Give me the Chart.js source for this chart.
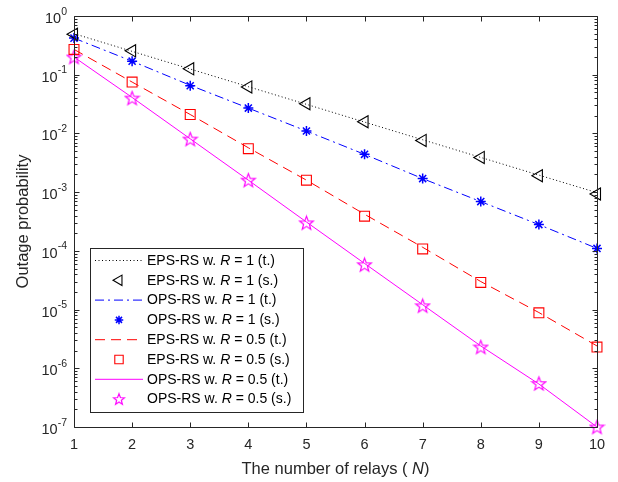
<!DOCTYPE html>
<html><head><meta charset="utf-8">
<script src="https://cdn.jsdelivr.net/npm/chart.js@4.4.1/dist/chart.umd.min.js"></script>
<style>html,body{margin:0;padding:0;background:#fff}#wrap{width:618px;height:482px}</style>
</head><body><div id="wrap"><canvas id="c" width="618" height="482"></canvas></div>
<script>
const relays = [1,2,3,4,5,6,7,8,9,10];
const xTicks = [1,2,3,4,5,6,7,8,9,10];
const yDecades = [0,-1,-2,-3,-4,-5,-6,-7];
const epsR1Theory = [0.5,0.25,0.125,0.0625,0.0313,0.0156,0.0078,0.0039,0.00195,0.00098];
const epsR1Sim    = [0.49,0.255,0.126,0.062,0.032,0.0158,0.0076,0.0039,0.0019,0.00093];
const opsR1Theory = [0.42,0.17,0.066,0.027,0.011,0.0044,0.0017,0.00069,0.00028,0.00011];
const opsR1Sim    = [0.42,0.17,0.065,0.027,0.011,0.0044,0.0017,0.00069,0.00028,0.00011];
const epsR05Theory = [0.27,0.075,0.021,0.0057,0.0016,0.00042,0.000115,0.00003,0.0000089,0.0000024];
const epsR05Sim    = [0.27,0.075,0.021,0.0055,0.0016,0.00039,0.000108,0.000029,0.0000088,0.0000023];
const opsR05Theory = [0.2,0.041,0.0081,0.0016,0.00031,0.000061,0.0000121,0.0000024,0.00000054,0.0000001];
const opsR05Sim    = [0.2,0.04,0.008,0.0016,0.0003,0.000058,0.0000116,0.0000023,0.00000055,0.0000001];
const legendNames = [
 ['EPS-RS w. ','R',' = 1 (t.)'],['EPS-RS w. ','R',' = 1 (s.)'],
 ['OPS-RS w. ','R',' = 1 (t.)'],['OPS-RS w. ','R',' = 1 (s.)'],
 ['EPS-RS w. ','R',' = 0.5 (t.)'],['EPS-RS w. ','R',' = 0.5 (s.)'],
 ['OPS-RS w. ','R',' = 0.5 (t.)'],['OPS-RS w. ','R',' = 0.5 (s.)']];

function pentagram(color,R,size){
  const c=document.createElement('canvas'); c.width=size;c.height=size;
  const g=c.getContext('2d'); g.strokeStyle=color; g.lineWidth=1.2; g.beginPath();
  const r=R*0.42,cx=size/2,cy=size/2+R*0.08;
  for(let i=0;i<10;i++){const a=-Math.PI/2+i*Math.PI/5;const rr=i%2?r:R;
    const px=cx+rr*Math.cos(a),py=cy+rr*Math.sin(a); i?g.lineTo(px,py):g.moveTo(px,py);}
  g.closePath(); g.stroke(); return c;
}
const star5 = pentagram('#ff00ff',7.2,17);
const star5small = pentagram('#ff00ff',5.8,14);
const pts = a => a.map((v,i)=>({x:relays[i],y:v}));
const lineDS = (d,col,dash)=>({data:pts(d),borderColor:col,borderWidth:1,borderDash:dash,pointRadius:0,fill:false,clip:false,tension:0});
const mkDS = (d,col,style,r,rot,bw)=>({data:pts(d),showLine:false,borderColor:col,backgroundColor:'rgba(0,0,0,0)',pointStyle:style,pointRadius:r,pointRotation:rot||0,pointBorderWidth:bw||1,clip:false});

const datasets=[
 lineDS(epsR1Theory,'#000000',[1,2.5]),
 mkDS(epsR1Sim,'#000000','triangle',7,-90,1.1),
 lineDS(opsR1Theory,'#0000ff',[9,4,2,4]),
 mkDS(opsR1Sim,'#0000ff','star',5,0,1.5),
 lineDS(epsR05Theory,'#ff0000',[10,6]),
 mkDS(epsR05Sim,'#ff0000','rect',7,0,1.1),
 lineDS(opsR05Theory,'#ff00ff',[]),
 mkDS(opsR05Sim,'#ff00ff',star5,8,0,1)
];

const FONT='"Liberation Sans", Arial, sans-serif';
function txt(ctx,s,x,y,font){ctx.font=font;ctx.fillText(s,x,y);return ctx.measureText(s).width;}
const deco={id:'deco',afterDatasetsDraw(ch){
  const ctx=ch.ctx, a=ch.chartArea, xs=ch.scales.x, ys=ch.scales.y;
  ctx.save();
  ctx.strokeStyle='#262626'; ctx.lineWidth=1;
  const L=Math.round(a.left)+0.5,R=Math.round(a.right)+0.5,T=Math.round(a.top)+0.5,B=Math.round(a.bottom)+0.5;
  ctx.beginPath(); ctx.rect(L,T,R-L,B-T); ctx.stroke();
  ctx.beginPath();
  xTicks.forEach(v=>{const px=Math.round(xs.getPixelForValue(v))+0.5; ctx.moveTo(px,B);ctx.lineTo(px,B-5);ctx.moveTo(px,T);ctx.lineTo(px,T+5);});
  yDecades.forEach(e=>{
    const py=Math.round(ys.getPixelForValue(Math.pow(10,e)))+0.5;
    ctx.moveTo(L,py);ctx.lineTo(L+5,py);ctx.moveTo(R,py);ctx.lineTo(R-5,py);
    if(e>-7){for(let m=2;m<=9;m++){const q=Math.round(ys.getPixelForValue(m*Math.pow(10,e-1)))+0.5;
      ctx.moveTo(L,q);ctx.lineTo(L+3,q);ctx.moveTo(R,q);ctx.lineTo(R-3,q);}}
  });
  ctx.stroke();
  ctx.fillStyle='#262626';
  const TF='14.5px '+FONT, SF='10.5px '+FONT;
  ctx.font=TF; ctx.textAlign='center'; ctx.textBaseline='top';
  xTicks.forEach(v=>ctx.fillText(String(v),xs.getPixelForValue(v),438));
  ctx.textAlign='left'; ctx.textBaseline='alphabetic';
  yDecades.forEach(e=>{
    const py=ys.getPixelForValue(Math.pow(10,e));
    const sup=String(e);
    ctx.font=SF; const sw=ctx.measureText(sup).width;
    ctx.font=TF; const bw=ctx.measureText('10').width;
    const right=a.left-7;
    txt(ctx,'10',right-sw-bw,py+7,TF);
    txt(ctx,sup,right-sw,py-1.5,SF);
  });
  // axis titles
  const tf='16.5px '+FONT, tfi='italic 16.5px '+FONT;
  ctx.font=tf; const w1=ctx.measureText('The number of relays ( ').width, w3=ctx.measureText(')').width;
  ctx.font=tfi; const w2=ctx.measureText('N').width;
  let sx=(a.left+a.right)/2-(w1+w2+w3)/2, by=474;
  txt(ctx,'The number of relays ( ',sx,by,tf);
  txt(ctx,'N',sx+w1,by,tfi);
  txt(ctx,')',sx+w1+w2,by,tf);
  ctx.save(); ctx.translate(28,(a.top+a.bottom)/2); ctx.rotate(-Math.PI/2);
  ctx.font=tf; ctx.textAlign='center'; ctx.fillText('Outage probability',0,0); ctx.restore();
  // legend
  const lx=90.5, ly=248.5, lw=213, lh=164;
  ctx.fillStyle='#fff'; ctx.fillRect(lx,ly,lw,lh);
  ctx.strokeStyle='#262626'; ctx.lineWidth=1; ctx.setLineDash([]); ctx.strokeRect(lx,ly,lw,lh);
  datasets.forEach((ds,i)=>{
    const cy=260.5+i*19.8;
    if(ds.showLine===false){
      ctx.lineWidth=ds.pointBorderWidth; ctx.strokeStyle=ds.borderColor; ctx.fillStyle='rgba(0,0,0,0)';
      const st = ds.pointStyle===star5?star5small:ds.pointStyle;
      Chart.helpers.drawPoint(ctx,{pointStyle:st,radius:ds.pointRadius*0.85,rotation:ds.pointRotation,borderWidth:ds.pointBorderWidth},119,cy);
    } else {
      ctx.strokeStyle=ds.borderColor; ctx.lineWidth=1; ctx.setLineDash(ds.borderDash);
      ctx.beginPath(); ctx.moveTo(95,cy); ctx.lineTo(143,cy); ctx.stroke(); ctx.setLineDash([]);
    }
    const n=legendNames[i];
    ctx.fillStyle='#000'; ctx.textAlign='left'; ctx.textBaseline='middle';
    const lf='14px '+FONT;
    const w0=txt(ctx,n[0],147,cy+0.5,lf);
    const wr=txt(ctx,n[1],147+w0,cy+0.5,'italic '+lf);
    txt(ctx,n[2],147+w0+wr,cy+0.5,lf);
  });
  ctx.restore();
}};

new Chart(document.getElementById('c'),{
  type:'line',
  data:{datasets},
  options:{
    responsive:false, animation:false, devicePixelRatio:1,
    layout:{padding:{left:74,top:16,right:21,bottom:55}},
    plugins:{legend:{display:false},tooltip:{enabled:false}},
    scales:{
      x:{type:'linear',min:1,max:10,ticks:{display:false},grid:{display:false,drawTicks:false},border:{display:false}},
      y:{type:'logarithmic',min:1e-7,max:1,ticks:{display:false},grid:{display:false,drawTicks:false},border:{display:false}}
    }
  },
  plugins:[deco]
});
</script></body></html>
